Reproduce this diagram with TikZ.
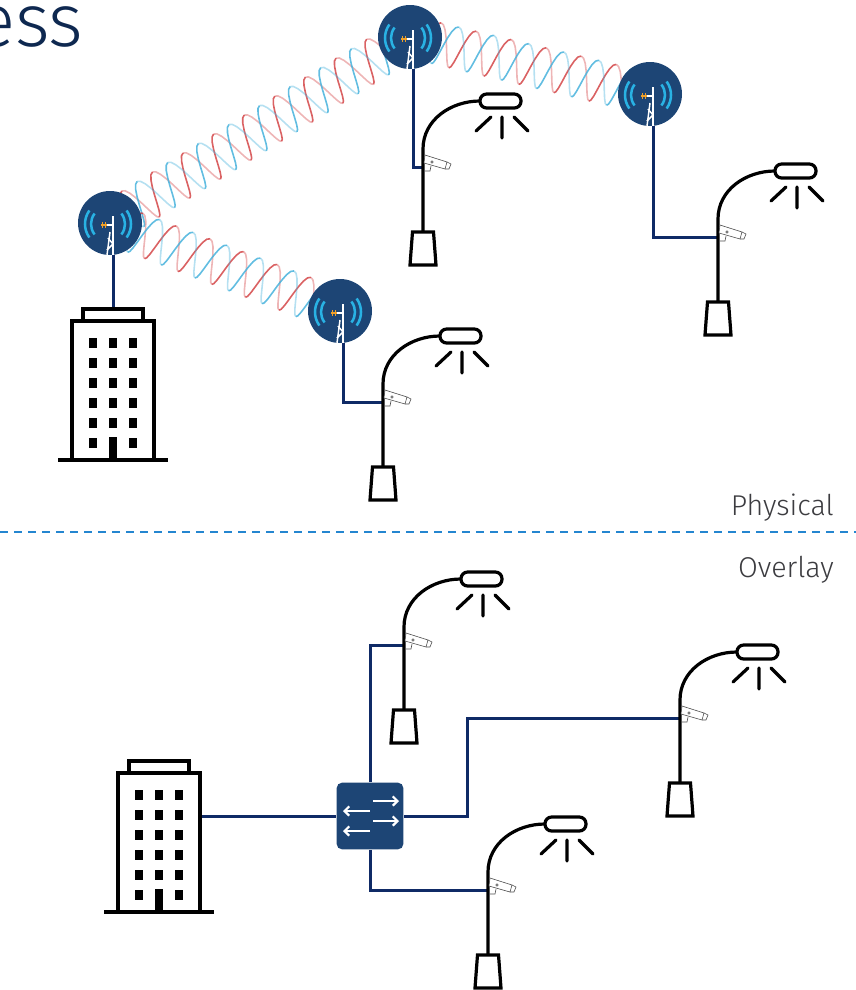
\documentclass[tikz,border=0pt]{standalone}
\usepackage{fontspec}
\newfontfamily\lightsans{Fira Sans Light}
\usetikzlibrary{calc,arrows.meta,backgrounds}

\definecolor{navy}{RGB}{15,42,102}
\definecolor{discblue}{RGB}{29,69,117}
\definecolor{wifiblue}{RGB}{41,178,228}
\definecolor{feedorange}{RGB}{240,160,40}
\definecolor{helixred}{RGB}{212,70,72}
\definecolor{helixblue}{RGB}{70,178,220}
\definecolor{rulerblue}{RGB}{36,134,208}
\definecolor{labelgray}{RGB}{60,60,64}
\definecolor{titlenavy}{RGB}{14,40,80}

\tikzset{every picture/.style={line width=0.75pt}}
\tikzset{
  link/.style={navy, line width=2.25pt},
  lampline/.style={black, line width=2.4pt},
  bldline/.style={black, line width=2.3pt},
  camline/.style={black!70, line width=0.45pt},
  helixline/.style={line width=1.2pt},
  wifi/.style={wifiblue, line width=1.9pt},
  mastline/.style={white, line width=1.1pt},
  swarrow/.style={white, line width=1.6pt, -{Straight Barb[length=3.5pt,width=7pt]}},
  divider/.style={rulerblue, line width=1.5pt, dash pattern=on 6pt off 4.5pt},
  label/.style={anchor=base east, inner sep=0pt, text=labelgray, font=\lightsans\fontsize{21.5}{24}\selectfont},
  antdisc/.style={circle, fill=discblue, minimum size=48pt, inner sep=0pt},
  switchbox/.style={rectangle, rounded corners=4pt, fill=discblue, minimum size=50pt, inner sep=0pt},
  % radio mast with wifi arcs (pics use y down like the picture)
  antenna/.pic={
    \begin{scope}[yscale=-1]
    \node[antdisc] (-disc) at (0,0) {};
    \draw[wifi] (-2,1) ++(142:17) arc[start angle=142, end angle=218, radius=17];
    \draw[wifi] (-2,1) ++(144:23) arc[start angle=144, end angle=216, radius=23];
    \draw[wifi] (-2,1) ++(-38:17) arc[start angle=-38, end angle=38, radius=17];
    \draw[wifi] (-2,1) ++(-36:23) arc[start angle=-36, end angle=36, radius=23];
    \draw[mastline] (3,-7) -- (3,32);
    \draw[mastline] (-3,2) -- (3,2);
    \draw[mastline] (0,9) -- (-3,32);
    \draw[mastline] (-2,15) -- (3,21) -- (-3,27);
    \draw[feedorange, line width=1.1pt] (-9,2) -- (-3,2) (-7.5,-1) -- (-7.5,5) (-4.5,-1) -- (-4.5,5);
    \coordinate (-mast) at (3,32);
    \end{scope}
  },
  % street lamp with camera, origin at foot of the base
  streetlamp/.pic={
    \begin{scope}[yscale=-1]
    \draw[lampline] (-13,0) -- (-10.5,-33) -- (10.5,-33) -- (13,0) -- cycle;
    \draw[lampline] (0,-33) -- (0,-116) to[out=-90,in=180] (57,-164);
    \draw[lampline, fill=white, rounded corners=5pt] (57,-171) rectangle (98,-157);
    \draw[lampline, line cap=round] (53,-134) -- (68,-148) (79,-148) -- (79,-127) (91,-148) -- (105,-134);
    \draw[camline, fill=white] (2,-110) -- (24,-103) -- (22,-96) -- (1,-102) -- cycle;
    \draw[camline] (24,-103) -- (28,-101) -- (26,-96) -- (22,-96);
    \draw[camline] (9,-103) circle[radius=1.2];
    \draw[camline] (1.5,-94) -- (7,-94) -- (8,-99);
    \coordinate (-pole) at (0,-98);
    \end{scope}
  },
  % office tower, origin at middle of the ground line
  tower/.pic={
    \begin{scope}[yscale=-1]
    \draw[bldline] (-41,0) -- (-41,-139) -- (41,-139) -- (41,0);
    \draw[bldline] (-30,-139) -- (-30,-151) -- (30,-151) -- (30,-139);
    \draw[bldline] (-55,0) -- (55,0);
    \foreach \wx in {-20,0,20}
      \foreach \wy in {-117,-97,-77,-57,-37}
        \fill (\wx-4,\wy-5) rectangle ++(8,10);
    \fill (-24,-22) rectangle ++(8,10);
    \fill (16,-22) rectangle ++(8,10);
    \fill (-4,-23) rectangle (4,0);
    \coordinate (-top) at (0,-151);
    \coordinate (-side) at (41,-96);
    \end{scope}
  }
}

% double helix between two radios (36 units per turn)
\newcommand{\helixlink}[2]{%
  \path let \p1=($(#2)-(#1)$) in
    \pgfextra{\pgfmathsetmacro\tmpang{atan2(\y1,\x1)}\global\let\hxang\tmpang
              \pgfmathsetmacro\tmplen{veclen(\x1,\y1)/0.75}\global\let\hxlen\tmplen};
  \pgfmathtruncatemacro\hxn{\hxlen/18}%
  \begin{scope}[shift={(#1)}, rotate=\hxang]
    \foreach \k in {0,...,\hxn}{%
      \pgfmathsetmacro\sa{max(0,(\k-0.5)*18)}%
      \pgfmathsetmacro\sb{min(\hxlen,(\k+0.5)*18)}%
      \pgfmathsetmacro\fr{mod(\k,2)}%
      \pgfmathsetmacro\opred{0.4+0.45*\fr}%
      \pgfmathsetmacro\opblue{0.85-0.45*\fr}%
      \draw[helixline, helixred, draw opacity=\opred] plot[domain=\sa:\sb, samples=9, variable=\hs]
        ({\hs+1.5*cos(\hs*10)}, {21*sin(\hs*10)});
      \draw[helixline, helixblue, draw opacity=\opblue] plot[domain=\sa:\sb, samples=9, variable=\hs]
        ({\hs-1.5*cos(\hs*10)}, {-21*sin(\hs*10)});
    }
  \end{scope}}

\begin{document}
\begin{tikzpicture}[x=0.75pt,y=0.75pt,yscale=-1,xscale=1]
\useasboundingbox (0,0) rectangle (856,990);

% Text Node
\node[anchor=base east, inner sep=0pt, text=titlenavy, font=\lightsans\fontsize{56}{60}\selectfont] (title) at (84,46) {ess};

%Radios
\pic (ant1) at (110,223) {antenna};
\pic (ant2) at (410,37) {antenna};
\pic (ant3) at (650,94) {antenna};
\pic (ant4) at (340,311) {antenna};

%Street lamps and buildings
\pic (lampA) at (423,265) {streetlamp};
\pic (lampB) at (718,335) {streetlamp};
\pic (lampC) at (383,500) {streetlamp};
\pic (bldA) at (113,460) {tower};

\pic (lampD) at (404,743) {streetlamp};
\pic (lampE) at (680,816) {streetlamp};
\pic (lampF) at (488,988) {streetlamp};
\pic (bldB) at (159,912) {tower};

\node[switchbox] (sw) at (370,816) {};
\coordinate (jog) at (467,816);

\begin{pgfonlayer}{background}
\helixlink{ant1-disc}{ant2-disc}
\helixlink{ant1-disc}{ant4-disc}
\helixlink{ant2-disc}{ant3-disc}
%Physical links
\draw[link] (ant1-mast) -- (bldA-top);
\draw[link] (ant2-mast) |- (lampA-pole);
\draw[link] (ant3-mast) |- (lampB-pole);
\draw[link] (ant4-mast) |- (lampC-pole);
%Overlay links
\draw[link] (bldB-side) -- (sw.west);
\draw[link] (sw.north) |- (lampD-pole);
\draw[link] (sw.east) -- (jog) |- (lampE-pole);
\draw[link] (sw.south) |- (lampF-pole);
\end{pgfonlayer}

\foreach \dy/\xa/\xb in {-15/3/29, -5/0/-27, 5/3/29, 15/0/-27}
  \draw[swarrow] ($(sw)+(\xa,\dy)$) -- ($(sw)+(\xb,\dy)$);

%Straight Lines
\draw[divider] (0,532) -- (856,532);

% Text Node
\node[label] (physical) at (834,515) {Physical};
% Text Node
\node[label] (overlay) at (834,577) {Overlay};

\end{tikzpicture}
\end{document}
